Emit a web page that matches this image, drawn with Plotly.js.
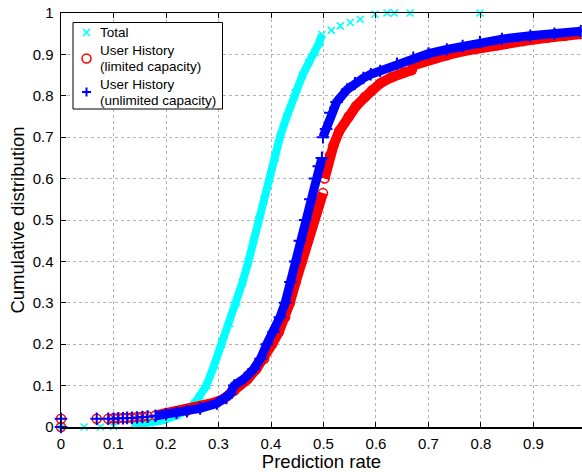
<!DOCTYPE html>
<html>
<head>
<meta charset="utf-8">
<script src="https://cdn.plot.ly/plotly-3.0.1.min.js"></script>
<style>html,body{margin:0;padding:0;background:#fff;}#chart{width:582px;height:472px;}</style>
</head>
<body>
<div id="chart"></div>
<script>
// ---- Data (prediction rate, cumulative fraction) ----
const totalX = [0, 0.044, 0.075, 0.1, 0.138, 0.17, 0.195, 0.22, 0.24, 0.255, 0.265, 0.277, 0.292, 0.306, 0.321, 0.335, 0.346, 0.357, 0.367, 0.376, 0.387, 0.398, 0.408, 0.417, 0.43, 0.446, 0.46, 0.472, 0.484, 0.492, 0.497, 0.515, 0.532, 0.551, 0.570, 0.598, 0.621, 0.635, 0.665, 0.798];
const totalY = [0, 0, 0, 0.001, 0.005, 0.01, 0.016, 0.028, 0.04, 0.058, 0.075, 0.1, 0.15, 0.2, 0.25, 0.3, 0.35, 0.4, 0.45, 0.5, 0.55, 0.6, 0.65, 0.7, 0.75, 0.807, 0.85, 0.88, 0.904, 0.928, 0.948, 0.958, 0.969, 0.977, 0.985, 0.997, 1.0, 1.0, 1.0, 1.0];

// User History (limited capacity) — lower and upper parts (jump at 0.5)
const limLowX = [0, 0, 0.068, 0.09, 0.1, 0.109, 0.118, 0.126, 0.135, 0.145, 0.155, 0.165, 0.18, 0.2, 0.22, 0.24, 0.265, 0.29, 0.31, 0.33, 0.337, 0.355, 0.372, 0.387, 0.402, 0.415, 0.427, 0.436, 0.447, 0.458, 0.469, 0.48, 0.49, 0.499];
const limLowY = [0, 0.02, 0.02, 0.02, 0.021, 0.021, 0.022, 0.022, 0.023, 0.024, 0.025, 0.026, 0.028, 0.033, 0.036, 0.04, 0.048, 0.058, 0.068, 0.088, 0.1, 0.115, 0.14, 0.165, 0.2, 0.23, 0.265, 0.3, 0.35, 0.4, 0.45, 0.5, 0.535, 0.565];
const limHighX = [0.502, 0.506, 0.512, 0.519, 0.53, 0.548, 0.562, 0.579, 0.592, 0.608, 0.63, 0.652, 0.668, 0.672, 0.703, 0.735, 0.767, 0.8, 0.83, 0.88, 0.926, 0.96, 0.99];
const limHighY = [0.6, 0.625, 0.655, 0.68, 0.715, 0.75, 0.775, 0.797, 0.813, 0.83, 0.845, 0.856, 0.862, 0.874, 0.888, 0.898, 0.908, 0.916, 0.922, 0.932, 0.94, 0.945, 0.949];

// User History (unlimited capacity)
const unlLowX = [0, 0, 0.068, 0.09, 0.1, 0.109, 0.118, 0.126, 0.135, 0.145, 0.155, 0.165, 0.18, 0.2, 0.22, 0.24, 0.265, 0.297, 0.315, 0.322, 0.33, 0.35, 0.367, 0.38, 0.392, 0.405, 0.417, 0.427, 0.437, 0.446, 0.455, 0.465, 0.475, 0.484, 0.491, 0.497];
const unlLowY = [0, 0.02, 0.02, 0.02, 0.02, 0.021, 0.021, 0.022, 0.022, 0.023, 0.024, 0.025, 0.027, 0.031, 0.034, 0.038, 0.045, 0.057, 0.07, 0.08, 0.1, 0.118, 0.14, 0.165, 0.2, 0.23, 0.265, 0.3, 0.35, 0.4, 0.45, 0.5, 0.55, 0.6, 0.63, 0.65];
const unlHighX = [0.499, 0.505, 0.513, 0.525, 0.545, 0.56, 0.576, 0.59, 0.608, 0.64, 0.671, 0.7, 0.735, 0.765, 0.798, 0.84, 0.894, 0.94, 0.99];
const unlHighY = [0.70, 0.72, 0.759, 0.785, 0.815, 0.83, 0.843, 0.852, 0.86, 0.877, 0.892, 0.902, 0.912, 0.92, 0.93, 0.937, 0.945, 0.95, 0.956];

const xTicks = [0, 0.1, 0.2, 0.3, 0.4, 0.5, 0.6, 0.7, 0.8, 0.9];
const xTickText = ['0', '0.1', '0.2', '0.3', '0.4', '0.5', '0.6', '0.7', '0.8', '0.9'];
const yTicks = [0, 0.1, 0.2, 0.3, 0.4, 0.5, 0.6, 0.7, 0.8, 0.9, 1];
const yTickText = ['0', '0.1', '0.2', '0.3', '0.4', '0.5', '0.6', '0.7', '0.8', '0.9', '1'];

const seriesNames = ['Total', 'User History', '(limited capacity)', 'User History', '(unlimited capacity)'];

const CYAN = '#00ffff', RED = '#ff0000', BLUE = '#0000ff';
const FONT = 'Liberation Sans, Arial, Helvetica, sans-serif';

// dense band: where the markers overlap into a solid band, connect them
function band(xs, ys, minX, maxX) {
  const bx = [], by = [];
  xs.forEach((x, i) => { if (x >= minX && x <= maxX) { bx.push(x); by.push(ys[i]); } });
  return [bx, by];
}
function bandTrace(seg, color, width) {
  return { x: seg[0], y: seg[1], mode: 'lines', line: { color: color, width: width }, showlegend: false, hoverinfo: 'skip', cliponaxis: false };
}

const traces = [];
traces.push(bandTrace(band(totalX, totalY, 0.13, 0.5), CYAN, 8));
traces.push({ x: totalX, y: totalY, name: 'Total', mode: 'markers', cliponaxis: false, showlegend: false,
  marker: { symbol: 'x-thin', size: 7, color: CYAN, line: { color: CYAN, width: 1.6 } } });

traces.push(bandTrace(band(limLowX, limLowY, 0.17, 1), RED, 10));
traces.push(bandTrace(band(limHighX, limHighY, 0, 1), RED, 10));
traces.push({ x: limLowX.concat(limHighX), y: limLowY.concat(limHighY), name: 'User History (limited capacity)', mode: 'markers', cliponaxis: false, showlegend: false,
  marker: { symbol: 'circle-open', size: 9, color: RED, line: { color: RED, width: 1.5 } } });

traces.push(bandTrace(band(unlLowX, unlLowY, 0.17, 1), BLUE, 9));
traces.push(bandTrace(band(unlHighX, unlHighY, 0, 1), BLUE, 9));
traces.push({ x: unlLowX.concat(unlHighX), y: unlLowY.concat(unlHighY), name: 'User History (unlimited capacity)', mode: 'markers', cliponaxis: false, showlegend: false,
  marker: { symbol: 'cross-thin', size: 9, color: BLUE, line: { color: BLUE, width: 2 } } });

// ---- legend box drawn as shapes + annotations (pixel placement) ----
const L = 61, T = 13, W = 521, H = 414;
const px = p => (p - L) / W;
const py = p => (T + H - p) / H;
const shapes = [
  { type: 'rect', xref: 'paper', yref: 'paper', x0: px(73), x1: px(222.5), y0: py(109), y1: py(22.5),
    fillcolor: '#fff', line: { color: '#000', width: 1 }, layer: 'above' }
];
function segShape(cx, cy, dx0, dy0, dx1, dy1, color, w) {
  return { type: 'line', xref: 'paper', yref: 'paper', xsizemode: 'pixel', ysizemode: 'pixel',
    xanchor: px(cx), yanchor: py(cy), x0: dx0, y0: dy0, x1: dx1, y1: dy1, line: { color: color, width: w }, layer: 'above' };
}
shapes.push(segShape(86.5, 32.5, -3.5, -3.5, 3.5, 3.5, CYAN, 1.6));
shapes.push(segShape(86.5, 32.5, -3.5, 3.5, 3.5, -3.5, CYAN, 1.6));
shapes.push({ type: 'circle', xref: 'paper', yref: 'paper', xsizemode: 'pixel', ysizemode: 'pixel',
  xanchor: px(86.5), yanchor: py(58.5), x0: -4.5, x1: 4.5, y0: -4.5, y1: 4.5, line: { color: RED, width: 1.5 }, layer: 'above' });
shapes.push(segShape(86.5, 92, -4.5, 0, 4.5, 0, BLUE, 2));
shapes.push(segShape(86.5, 92, 0, -4.5, 0, 4.5, BLUE, 2));

const textRows = [32.5, 50.5, 66, 84.5, 100];
const annotations = seriesNames.map((t, i) => ({
  text: t, xref: 'paper', yref: 'paper', x: px(99), y: py(textRows[i]), xanchor: 'left', yanchor: 'middle',
  showarrow: false, borderpad: 0, font: { family: FONT, size: 13.5, color: '#000' }
}));

const axisCommon = {
  ticks: 'inside', ticklen: 5, tickcolor: '#000', tickwidth: 1,
  showline: true, linecolor: '#000', linewidth: 1.5,
  showgrid: true, gridcolor: '#b4b4b4', griddash: 'dot', gridwidth: 1,
  zeroline: false, tickfont: { family: FONT, size: 15, color: '#000' }
};

const layout = {
  width: 582, height: 472,
  margin: { l: L, r: 0, t: T, b: 45 },
  paper_bgcolor: '#fff', plot_bgcolor: '#fff',
  font: { family: FONT, color: '#000' },
  xaxis: Object.assign({}, axisCommon, {
    range: [0, 0.9924], tickmode: 'array', tickvals: xTicks, ticktext: xTickText, mirror: 'ticks',
    ticklabelstandoff: 2,
    title: { text: 'Prediction rate', font: { family: FONT, size: 18.5, color: '#000' }, standoff: 4 }
  }),
  yaxis: Object.assign({}, axisCommon, {
    range: [0, 1], tickmode: 'array', tickvals: yTicks, ticktext: yTickText, mirror: false,
    ticklabelstandoff: 3,
    title: { text: 'Cumulative distribution', font: { family: FONT, size: 18.5, color: '#000' }, standoff: 3 }
  }),
  shapes: shapes,
  annotations: annotations,
  showlegend: false
};

Plotly.newPlot('chart', traces, layout, { staticPlot: true, displayModeBar: false });
</script>
</body>
</html>
